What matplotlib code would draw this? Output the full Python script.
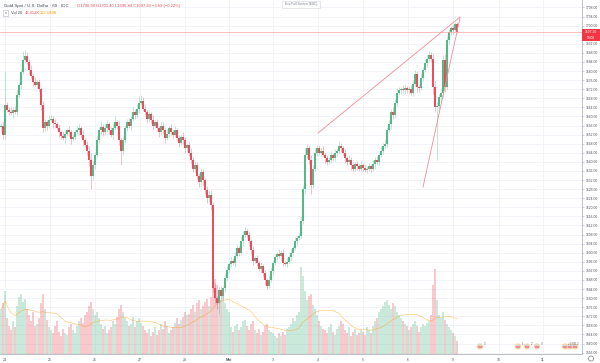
import matplotlib
matplotlib.use("Agg")
import matplotlib.pyplot as plt
import matplotlib.transforms as mtransforms
from matplotlib.patches import Rectangle, Ellipse
import pandas as pd

# ---------------- data (hourly candles, XAUUSD) ----------------
first_open = 1655.5
close_feb24 = [1656, 1652, 1665, 1663, 1662, 1661.5, 1663, 1662, 1669.5, 1674, 1679.5, 1685, 1686.5,
               1684, 1680.5, 1678, 1675, 1674, 1675, 1672, 1665, 1655, 1657.5, 1656, 1658.5]
close_feb25 = [1659, 1657, 1656.5, 1655, 1653, 1651.5, 1650.5, 1652.5, 1654, 1653, 1650, 1651, 1653,
               1654, 1655, 1652, 1649.5, 1647.5, 1645, 1641, 1634, 1638.5, 1643]
close_feb26 = [1649.5, 1654, 1655.5, 1653, 1655, 1656.5, 1654, 1652, 1655, 1657.5, 1656, 1649.5, 1645,
               1649.5, 1655, 1657.5, 1656, 1659, 1662, 1660.5, 1663.5, 1666, 1667]
close_feb27 = [1663.5, 1662, 1659, 1661, 1658.5, 1656, 1657.5, 1655, 1653, 1656, 1654, 1650.5, 1652.5,
               1655, 1653, 1652, 1654, 1650.5, 1648.5, 1651, 1649.5, 1646, 1647.5]
close_feb28 = [1644, 1641, 1637, 1638.5, 1634, 1631, 1635.5, 1632, 1627.5, 1624, 1625.5, 1621, 1584.5,
               1580, 1578, 1583.5, 1581, 1584.5, 1589, 1592.5, 1595]
close_mar02 = [1596.5, 1595.5, 1598.5, 1602, 1600, 1605, 1608, 1609.5, 1608, 1605, 1601, 1596.5, 1597.5,
               1595.5, 1593, 1594, 1591, 1588, 1585.5, 1588, 1592]
close_mar03 = [1595.5, 1598, 1599.5, 1598.5, 1600, 1595.5, 1595, 1596, 1598, 1600, 1602, 1605, 1606.5,
               1607.5, 1614, 1628, 1643, 1646, 1641, 1630, 1637, 1644, 1646]
close_mar04 = [1644, 1645, 1643, 1641.5, 1640, 1641, 1643, 1641.5, 1644, 1645, 1647, 1646, 1644,
               1641.5, 1640, 1641, 1638.5, 1637, 1639, 1638, 1637, 1638.5]
close_mar05 = [1637.5, 1636.5, 1637, 1638, 1637, 1639, 1641, 1640, 1643, 1645, 1647, 1648, 1654,
               1656.5, 1662, 1660.5, 1666, 1670.5, 1671.5, 1672, 1671.5, 1672.5, 1671.5]
close_mar06 = [1672, 1670.5, 1674.5, 1678.5, 1673, 1672.5, 1677, 1680.5, 1683.5, 1685.5, 1687, 1685.5,
               1673, 1664, 1664.5, 1668.5, 1670.5, 1685, 1673, 1693.5, 1697, 1699, 1698, 1700.9, 1697.2]

up_feb24 = [1, 2, 15, 1.5, 1, 2, 1, 1.5, 2, 1, 1.5, 4, 3, 2, 1.5, 2, 1, 2.5, 1, 1.5, 1, 2, 1.5, 1, 2]
up_feb25 = [1.5, 1, 2, 1, 1.5, 1, 2, 1.5, 1, 2, 1, 1.5, 1, 2, 1.5, 1, 2, 1, 1.5, 2, 3, 2, 1.5]
up_feb26 = [2, 1.5, 2.5, 1, 1.5, 2, 1, 1.5, 2, 2.5, 1, 2, 1.5, 2, 1, 1.5, 2, 1, 2, 1.5, 2, 3, 2.5]
up_feb27 = [1.5, 2, 1, 1.5, 1, 2, 1, 1.5, 1, 2, 1.5, 1, 2, 1, 1.5, 1, 2, 1, 1.5, 1, 2, 1.5, 1]
up_feb28 = [1.5, 2, 1, 2, 1.5, 1, 2, 1.5, 1, 2, 1.5, 2, 1.5, 2, 1, 1.5, 2, 1, 2, 1.5, 1]
up_mar02 = [1.5, 1, 2, 1.5, 1, 2, 1.5, 2, 1, 1.5, 1, 2, 1, 1.5, 1, 2, 1, 1.5, 1, 2, 1.5]
up_mar03 = [1, 1.5, 1, 2, 1, 1.5, 1, 2, 1, 1.5, 1, 2, 1.5, 1, 2, 2, 3, 2, 1.5, 2, 1.5, 2, 1.5]
up_mar04 = [1.5, 1, 2, 1, 1.5, 1, 2, 1, 1.5, 1, 2, 1.5, 1, 1.5, 1, 2, 1, 1.5, 1, 1.5, 1, 2]
up_mar05 = [1, 1.5, 1, 1.5, 1, 2, 1, 1.5, 1, 2, 1.5, 2, 1.5, 2, 1.5, 2, 1.5, 2, 1.5, 1, 2, 1.5, 1]
up_mar06 = [1.5, 2, 1.5, 2, 1.5, 1, 2, 1.5, 2, 1.5, 2, 1.5, 2, 3, 2, 1.5, 2, 2, 2.5, 2, 1.5, 1, 1.5, 0.5, 0.5]

dn_feb24 = [1.5, 2, 2, 1, 1.5, 1, 2, 1, 1.5, 1, 2, 1, 1.5, 1, 2, 1, 1.5, 1, 2, 1, 2, 2, 1.5, 2, 1]
dn_feb25 = [1, 2, 1.5, 1, 2, 1.5, 1, 2, 1, 1.5, 2, 1, 1.5, 1, 2, 1.5, 2, 1, 2, 3, 6, 2, 1.5]
dn_feb26 = [1.5, 1, 2, 1.5, 1, 2, 1.5, 1, 2, 1, 1.5, 2, 6.5, 2, 1, 1.5, 1, 2, 1, 1.5, 1, 2, 1]
dn_feb27 = [1, 1.5, 2, 1, 1.5, 2, 1, 1.5, 2, 1, 1.5, 2, 1, 1.5, 1, 2, 1, 1.5, 2, 1, 1.5, 2, 1.5]
dn_feb28 = [1.5, 2, 1.5, 2, 1.5, 2, 1.5, 2, 1.5, 2, 1.5, 2, 2, 2, 3, 5, 2, 1.5, 2, 1.5, 1]
dn_mar02 = [1.5, 1, 2, 1, 1.5, 1, 2, 1, 1.5, 2, 1.5, 2, 1, 1.5, 1, 2, 1.5, 2, 1.5, 1, 1]
dn_mar03 = [1.5, 1, 1.5, 1, 2, 1.5, 1, 1.5, 1, 1.5, 1, 1, 1.5, 1, 1, 1.5, 2, 1.5, 2, 4, 1.5, 1, 1.5]
dn_mar04 = [1, 1.5, 1, 2, 1.5, 1, 1.5, 1, 1, 1.5, 1, 1.5, 1, 2, 1.5, 1, 2, 1.5, 1, 1.5, 1, 1]
dn_mar05 = [1.5, 1, 1.5, 1, 1.5, 1, 1.5, 1, 1.5, 1, 1.5, 1, 1.5, 1, 2, 1.5, 1, 1.5, 1, 1.5, 1, 1.5, 1]
dn_mar06 = [1.5, 1, 1.5, 1, 2, 1.5, 1, 1.5, 1, 1.5, 1, 1.5, 3, 2, 23, 2, 1.5, 2, 2, 1.5, 1.5, 1, 1.5, 1, 0.36]

vol_feb24 = [150, 170, 210, 120, 95, 80, 110, 90, 160, 190, 200, 175, 185, 150, 130, 110, 140, 95, 100,
             120, 170, 200, 150, 115, 90]
vol_feb25 = [80, 70, 95, 110, 75, 60, 85, 70, 65, 90, 100, 80, 70, 95, 110, 120, 105, 130, 140, 160,
             175, 150, 130]
vol_feb26 = [140, 120, 100, 85, 95, 70, 80, 90, 110, 100, 125, 150, 165, 140, 120, 110, 95, 100, 125,
             90, 110, 120, 105]
vol_feb27 = [95, 80, 70, 85, 60, 75, 90, 65, 80, 100, 85, 110, 95, 70, 80, 90, 105, 120, 100, 115,
             125, 140, 130]
vol_feb28 = [135, 150, 165, 140, 170, 180, 150, 160, 175, 185, 160, 190, 280, 250, 230, 210, 180, 195,
             170, 150, 140]
vol_mar02 = [90, 75, 95, 100, 80, 90, 110, 115, 95, 80, 100, 110, 80, 70, 85, 65, 75, 95, 100, 80, 75]
vol_mar03 = [70, 60, 55, 70, 60, 75, 65, 85, 90, 100, 120, 110, 130, 140, 290, 260, 210, 180, 195, 200,
             165, 150, 130]
vol_mar04 = [110, 95, 85, 80, 70, 90, 100, 75, 65, 85, 95, 110, 100, 80, 70, 90, 60, 75, 85, 65, 70, 80]
vol_mar05 = [75, 65, 90, 80, 70, 95, 110, 120, 140, 150, 160, 175, 180, 165, 150, 170, 160, 140, 130,
             120, 110, 100, 95]
vol_mar06 = [80, 90, 100, 110, 95, 75, 90, 100, 95, 105, 110, 130, 230, 285, 180, 130, 120, 140, 115,
             100, 90, 80, 70, 60, 42]

day_ticks = [2, 24.5, 47, 69.5, 92, 114, 136, 158.5, 181, 203.5, 226, 249, 271]
day_labels = ["24", "25", "26", "27", "28", "Mar", "3", "4", "5", "6", "9", "10", "11"]
price_ticks = list(range(1556, 1709, 4))

trend1_x = [158.5, 229.5]
trend1_y = [1652.7, 1703.8]
trend2_x = [211, 229.5]
trend2_y = [1628.9, 1703.4]
last_price = 1697.20

# ---------------- assemble ----------------
closes = (close_feb24 + close_feb25 + close_feb26 + close_feb27 + close_feb28 + close_mar02 +
          close_mar03 + close_mar04 + close_mar05 + close_mar06)
ups = up_feb24 + up_feb25 + up_feb26 + up_feb27 + up_feb28 + up_mar02 + up_mar03 + up_mar04 + up_mar05 + up_mar06
dns = dn_feb24 + dn_feb25 + dn_feb26 + dn_feb27 + dn_feb28 + dn_mar02 + dn_mar03 + dn_mar04 + dn_mar05 + dn_mar06
vols = (vol_feb24 + vol_feb25 + vol_feb26 + vol_feb27 + vol_feb28 + vol_mar02 + vol_mar03 +
        vol_mar04 + vol_mar05 + vol_mar06)
n = len(closes)
opens = [first_open] + closes[:-1]
idx = list(range(n))
highs = [max(o, c) + u for o, c, u in zip(opens, closes, ups)]
lows = [min(o, c) - d for o, c, d in zip(opens, closes, dns)]

UP = "#53b987"
DN = "#eb4d5c"
cols = [UP if c >= o else DN for o, c in zip(opens, closes)]

W, H = 600, 363
fig = plt.figure(figsize=(6, 3.63), dpi=100)
fig.patch.set_facecolor("white")
PR, PB = 582, 354
ax = fig.add_axes([0, 1 - PB / H, PR / W, PB / H])
ax.set_facecolor("white")
ax.set_xlim(-0.5, 290.5)
ax.set_ylim(1555.4, 1711.3)

FONT = "Liberation Sans"
TXT = "#50535e"

# grid
for p in price_ticks:
    ax.axhline(p, color="#f0f3fa", lw=0.6, zorder=0)
for t in day_ticks:
    ax.axvline(t, color="#f0f3fa", lw=0.6, zorder=0)

# volume in lower part of the pane
blend = mtransforms.blended_transform_factory(ax.transData, ax.transAxes)
VOL_RANGE = 1180.0
vcols = [UP if c >= o else DN for o, c in zip(opens, closes)]
ax.bar(idx, [v / VOL_RANGE for v in vols], width=0.8, bottom=0, color=vcols, alpha=0.3,
       linewidth=0, transform=blend, zorder=1)
ma = pd.Series(vols).rolling(20, min_periods=1).mean() / VOL_RANGE
ax.plot(idx, ma, color="#ff9800", lw=0.45, alpha=0.55, transform=blend, zorder=2)

# candles
ax.vlines(idx, lows, highs, colors=cols, lw=0.45, alpha=0.55, zorder=3)
bh = [max(abs(c - o), 0.35) for o, c in zip(opens, closes)]
bb = [min(o, c) for o, c in zip(opens, closes)]
ax.bar(idx, bh, bottom=bb, width=0.72, color=cols, linewidth=0, zorder=4)

# drawings
ax.plot(trend1_x, trend1_y, color="#f28b95", lw=0.6, zorder=5)
ax.plot(trend2_x, trend2_y, color="#f28b95", lw=0.6, zorder=5)
ax.axhline(last_price, color="#f7a1a8", lw=0.5, zorder=5)

# axes styling
for s in ["top", "left"]:
    ax.spines[s].set_visible(False)
for s in ["right", "bottom"]:
    ax.spines[s].set_color("#b2b5be")
    ax.spines[s].set_linewidth(0.6)
ax.yaxis.tick_right()
ax.set_yticks(price_ticks)
ax.set_yticklabels(["" if p == 1696 else f"{p:.2f}" for p in price_ticks])
ax.tick_params(axis="y", length=1.5, width=0.4, color="#b2b5be", labelsize=2.4,
               labelcolor=TXT, pad=1.2)
ax.set_xticks(day_ticks)
ax.set_xticklabels(day_labels)
ax.tick_params(axis="x", length=0, labelsize=2.5, labelcolor=TXT, pad=2.6)
for lab in ax.get_xticklabels() + ax.get_yticklabels():
    lab.set_fontfamily(FONT)
ax.get_xticklabels()[5].set_fontweight("bold")


def fx(x):
    return x / W


def fy(y):
    return 1 - y / H


def ftext(x, y, s, color=TXT, size=3.0, ha="left", **kw):
    fig.text(fx(x), fy(y), s, color=color, fontsize=size, ha=ha, va="center",
             fontfamily=FONT, **kw)


# legend texts
ftext(4, 6, "Gold Spot / U.S. Dollar · 60 · IDC", color="#434651", size=3.2)
ftext(77, 6, "O1700.90 H1701.40 L1696.84 C1697.20 −3.69 (−0.22%)", color=DN, size=3.0)
fig.add_artist(Rectangle((fx(3), fy(16)), 5 / W, 6 / H, transform=fig.transFigure,
                         facecolor="white", edgecolor="#b2b5be", lw=0.4))
ftext(5.5, 12.6, "v", color="#50535e", size=2.6, ha="center")
ftext(10.5, 13, "Vol 20", color="#434651", size=3.0)
ftext(25, 13, "42.412K", color=DN, size=3.0)
ftext(40, 13, "112.699K", color="#ff9800", size=3.0)

# exit full screen hint
fig.add_artist(Rectangle((fx(282), fy(7.5)), 38 / W, 7 / H, transform=fig.transFigure,
                         facecolor="white", edgecolor="#d1d4dc", lw=0.4))
ftext(301, 3.9, "Exit Full Screen (ESC)", color="#787b86", size=2.3, ha="center")

# last price label
fig.add_artist(Rectangle((fx(582), fy(41)), 18 / W, 12 / H, transform=fig.transFigure,
                         facecolor="#f23645", edgecolor="none"))
ftext(591, 32.3, "1697.20", color="white", size=2.4, ha="center")
ftext(591, 38, "59:08", color="white", size=2.3, ha="center")

# event markers
for ex in [480, 518, 527, 537, 565, 570, 575]:
    fig.add_artist(Ellipse((fx(ex), fy(346.5)), 5.5 / W, 5 / H, transform=fig.transFigure,
                           facecolor="#c9d6ef", edgecolor="#fbd3a0", lw=0.8))
    fig.add_artist(Rectangle((fx(ex - 2), fy(347.5)), 4 / W, 1.2 / H, transform=fig.transFigure,
                             facecolor="#f08a94", edgecolor="none"))
for ex, lab in [(484, "3"), (522, "1"), (531, "2"), (541, "3")]:
    ftext(ex, 344, lab, color=TXT, size=2.0)
ftext(568, 344, "+1 NZL 2", color=TXT, size=1.8)

# settings icon
fig.add_artist(Ellipse((fx(591), fy(358.5)), 5 / W, 5 / H, transform=fig.transFigure,
                       facecolor="white", edgecolor="#787b86", lw=0.5))

fig.savefig("out.png", dpi=100, facecolor="white")
